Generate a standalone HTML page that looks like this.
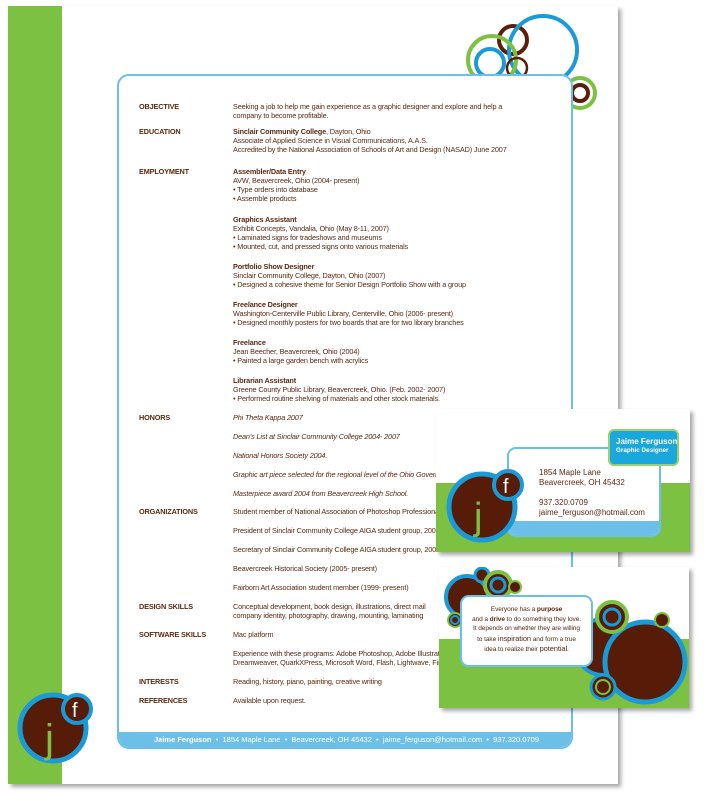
<!DOCTYPE html>
<html><head><meta charset="utf-8"><style>
*{margin:0;padding:0;box-sizing:border-box}
body{width:706px;height:792px;background:#fff;position:relative;overflow:hidden;font-family:"Liberation Sans",sans-serif;color:#5a2a14}
.sheet{position:absolute;left:8px;top:6px;width:610px;height:778px;background:#fff;box-shadow:3px 3px 4px rgba(0,0,0,.35)}
.green{position:absolute;left:8px;top:6px;width:54px;height:778px;background:#7cc142}
.box{position:absolute;left:117px;top:74px;width:456px;height:675px;border:2px solid #6cc0e8;border-radius:12px;background:#fff;overflow:hidden}
.foot{position:absolute;left:0;right:0;bottom:0;height:15px;background:#6cc0e8;color:#fff;font-size:7.5px;line-height:15px;padding-left:35px;white-space:nowrap}
.t{position:absolute;font-size:7.3px;white-space:nowrap;line-height:9px;letter-spacing:-0.15px}
.l{left:139px;font-weight:bold}
.c{left:233px}
i{font-style:italic}
.card{position:absolute;background:#fff;box-shadow:3px 3px 4px rgba(0,0,0,.35);overflow:hidden}
svg{position:absolute}
</style></head><body>
<div class="sheet"></div>
<div class="green"></div>
<svg width="706" height="792" style="left:0;top:0">
<circle cx="513" cy="40" r="14" fill="none" stroke="#5a1e0a" stroke-width="4"/>
<circle cx="543" cy="50" r="34" fill="none" stroke="#1a9ad6" stroke-width="4"/>
<circle cx="492" cy="60" r="24" fill="none" stroke="#7cc142" stroke-width="4"/>
<circle cx="490" cy="63" r="14" fill="none" stroke="#1a9ad6" stroke-width="4"/>
<circle cx="517" cy="68" r="10" fill="none" stroke="#5a1e0a" stroke-width="2.5"/>
<circle cx="580" cy="93" r="15" fill="none" stroke="#7cc142" stroke-width="4"/>
<circle cx="580" cy="93" r="8" fill="none" stroke="#5a1e0a" stroke-width="4"/>
</svg>
<div class="box"><div class="foot"><b>Jaime Ferguson</b> &nbsp;•&nbsp; 1854 Maple Lane &nbsp;•&nbsp; Beavercreek, OH 45432 &nbsp;•&nbsp; jaime_ferguson@hotmail.com &nbsp;•&nbsp; 937.320.0709</div></div>
<svg width="120" height="792" style="left:0;top:0">
<circle cx="53" cy="728" r="33" fill="#561c08" stroke="#1a9ad6" stroke-width="5"/>
<text x="45" y="752" font-family="Liberation Sans" font-size="40" fill="#7cc142">j</text>
<circle cx="77" cy="709" r="14" fill="#561c08" stroke="#1a9ad6" stroke-width="4"/>
<text x="72" y="717" font-family="Liberation Sans" font-size="20" fill="#fff">f</text>
</svg>

<div class="t l" style="top:102px">OBJECTIVE</div>
<div class="t c" style="top:102px">Seeking a job to help me gain experience as a graphic designer and explore and help a<br>company to become profitable.</div>
<div class="t l" style="top:127px">EDUCATION</div>
<div class="t c" style="top:127px"><b>Sinclair Community College</b>, Dayton, Ohio<br>Associate of Applied Science in Visual Communications, A.A.S.<br>Accredited by the National Association of Schools of Art and Design (NASAD) June 2007</div>
<div class="t l" style="top:167px">EMPLOYMENT</div>
<div class="t c" style="top:167px"><b>Assembler/Data Entry</b><br>AVW, Beavercreek, Ohio (2004- present)<br>• Type orders into database<br>• Assemble products</div>
<div class="t c" style="top:215px"><b>Graphics Assistant</b><br>Exhibit Concepts, Vandalia, Ohio (May 8-11, 2007)<br>• Laminated signs for tradeshows and museums<br>• Mounted, cut, and pressed signs onto various materials</div>
<div class="t c" style="top:262px"><b>Portfolio Show Designer</b><br>Sinclair Community College, Dayton, Ohio (2007)<br>• Designed a cohesive theme for Senior Design Portfolio Show with a group</div>
<div class="t c" style="top:300px"><b>Freelance Designer</b><br>Washington-Centerville Public Library, Centerville, Ohio (2006- present)<br>• Designed monthly posters for two boards that are for two library branches</div>
<div class="t c" style="top:338px"><b>Freelance</b><br>Jean Beecher, Beavercreek, Ohio (2004)<br>• Painted a large garden bench with acrylics</div>
<div class="t c" style="top:376px"><b>Librarian Assistant</b><br>Greene County Public Library, Beavercreek, Ohio. (Feb. 2002- 2007)<br>• Performed routine shelving of materials and other stock materials.</div>
<div class="t l" style="top:413px">HONORS</div>
<div class="t c" style="top:413px"><i>Phi Theta Kappa 2007</i></div>
<div class="t c" style="top:432px"><i>Dean's List at Sinclair Community College 2004- 2007</i></div>
<div class="t c" style="top:451px"><i>National Honors Society 2004.</i></div>
<div class="t c" style="top:470px"><i>Graphic art piece selected for the regional level of the Ohio Governor's</i></div>
<div class="t c" style="top:489px"><i>Masterpiece award 2004 from Beavercreek High School.</i></div>
<div class="t l" style="top:507px">ORGANIZATIONS</div>
<div class="t c" style="top:507px">Student member of National Association of Photoshop Professionals</div>
<div class="t c" style="top:526px">President of Sinclair Community College AIGA student group, 2006</div>
<div class="t c" style="top:545px">Secretary of Sinclair Community College AIGA student group, 2005</div>
<div class="t c" style="top:564px">Beavercreek Historical Society (2005- present)</div>
<div class="t c" style="top:583px">Fairborn Art Association student member (1999- present)</div>
<div class="t l" style="top:602px">DESIGN SKILLS</div>
<div class="t c" style="top:602px">Conceptual development, book design, illustrations, direct mail<br>company identity, photography, drawing, mounting, laminating</div>
<div class="t l" style="top:630px">SOFTWARE SKILLS</div>
<div class="t c" style="top:630px">Mac platform</div>
<div class="t c" style="top:649px">Experience with these programs: Adobe Photoshop, Adobe Illustrator,<br>Dreamweaver, QuarkXPress, Microsoft Word, Flash, Lightwave, Final Cut</div>
<div class="t l" style="top:677px">INTERESTS</div>
<div class="t c" style="top:677px">Reading, history, piano, painting, creative writing</div>
<div class="t l" style="top:696px">REFERENCES</div>
<div class="t c" style="top:696px">Available upon request.</div>

<!-- card 1 -->
<div class="card" style="left:436px;top:409px;width:254px;height:143px">
<div style="position:absolute;left:0;top:74px;width:254px;height:69px;background:#7cc142"></div>
<div style="position:absolute;left:71px;top:38px;width:154px;height:90px;background:#fff;border:2px solid #6cc0e8;border-radius:9px;overflow:hidden">
 <div style="position:absolute;left:0;right:0;bottom:0;height:14px;background:#6cc0e8"></div>
 <div style="position:absolute;left:30px;top:19px;font-size:8px;line-height:10px;white-space:nowrap">1854 Maple Lane<br>Beavercreek, OH 45432<br><br style="line-height:8px">937.320.0709<br>jaime_ferguson@hotmail.com</div>
</div>
<div style="position:absolute;left:172px;top:20px;width:71px;height:37px;background:#1aa7db;border:2.5px solid #9cd06a;border-radius:6px;color:#fff;padding:6px 0 0 6px;white-space:nowrap">
 <div style="font-size:8px;font-weight:bold;line-height:10px">Jaime Ferguson</div>
 <div style="font-size:6.3px;font-weight:bold;line-height:8px">Graphic Designer</div>
</div>
<svg width="254" height="143" style="left:0;top:0">
<circle cx="46" cy="98" r="33" fill="#561c08" stroke="#1a9ad6" stroke-width="5"/>
<text x="38" y="120" font-family="Liberation Sans" font-size="38" fill="#7cc142">j</text>
<circle cx="72" cy="76" r="14" fill="#561c08" stroke="#1a9ad6" stroke-width="4"/>
<text x="67" y="84" font-family="Liberation Sans" font-size="20" fill="#fff">f</text>
</svg>
</div>

<!-- card 2 -->
<div class="card" style="left:439px;top:567px;width:250px;height:141px">
<div style="position:absolute;left:0;top:72px;width:250px;height:69px;background:#7cc142"></div>
<svg width="250" height="141" style="left:0;top:0">
<circle cx="28" cy="30" r="21" fill="#561c08" stroke="#1a9ad6" stroke-width="4"/>
<circle cx="43" cy="8" r="7" fill="#561c08" stroke="#1a9ad6" stroke-width="3"/>
<circle cx="59" cy="18" r="13" fill="#561c08" stroke="#7cc142" stroke-width="4"/>
<circle cx="59" cy="18" r="7" fill="none" stroke="#1a9ad6" stroke-width="3"/>
<circle cx="76" cy="20" r="6" fill="#561c08" stroke="#7cc142" stroke-width="2"/>
<circle cx="16" cy="53" r="7" fill="#561c08" stroke="#7cc142" stroke-width="2"/>
<circle cx="16" cy="53" r="4" fill="none" stroke="#1a9ad6" stroke-width="2"/>
<circle cx="164" cy="80" r="28" fill="#561c08" stroke="#1a9ad6" stroke-width="4"/>
<circle cx="206" cy="95" r="40" fill="#561c08" stroke="#1a9ad6" stroke-width="5"/>
<circle cx="173" cy="50" r="15" fill="#561c08" stroke="#7cc142" stroke-width="4"/>
<circle cx="173" cy="50" r="8" fill="none" stroke="#1a9ad6" stroke-width="3"/>
<circle cx="223" cy="53" r="7" fill="#561c08" stroke="#7cc142" stroke-width="2"/>
<circle cx="164" cy="120" r="12" fill="#561c08" stroke="#1a9ad6" stroke-width="3"/>
<circle cx="164" cy="120" r="7" fill="none" stroke="#7cc142" stroke-width="2"/>
</svg>
<div style="position:absolute;left:21px;top:28px;width:133px;height:72px;background:#fff;border:2px solid #6cc0e8;border-radius:9px;text-align:center;font-size:6.6px;line-height:9.5px;padding-top:8px;letter-spacing:-0.1px">
Everyone has a <b>purpose</b><br>and a <b>drive</b> to do something they love.<br>It depends on whether they are willing<br>to take <span style="font-size:7.5px">inspiration</span> and form a true<br>idea to realize their <span style="font-size:7.5px">potential</span>.
</div>
</div>
</body></html>
